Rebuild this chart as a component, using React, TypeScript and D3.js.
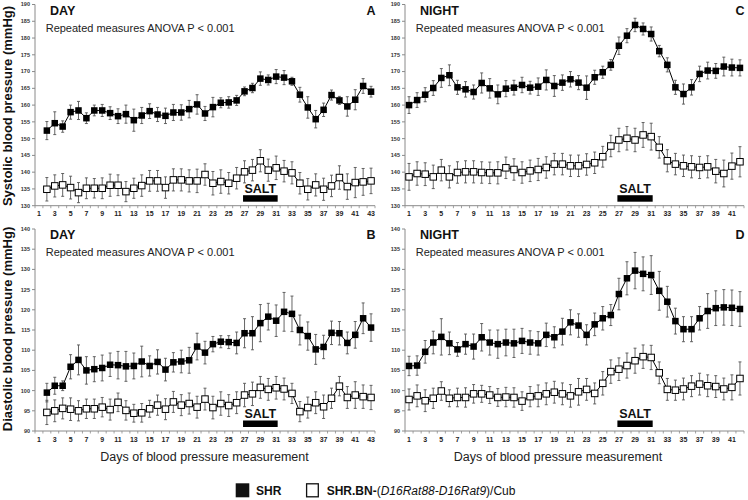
import React from 'react';
import * as d3 from 'd3';

// ---------- categories ----------
const dayCategories = [2,3,4,5,6,7,8,9,10,11,12,13,14,15,16,17,18,19,20,21,22,23,24,25,26,27,28,29,30,31,32,33,34,35,36,37,38,39,40,41,42,43];
const nightCategories = [1,2,3,4,5,6,7,8,9,10,11,12,13,14,15,16,17,18,19,20,21,22,23,24,25,26,27,28,29,30,31,32,33,34,35,36,37,38,39,40,41,42];
const dayTickLabels = [1,3,5,7,9,11,13,15,17,19,21,23,25,27,29,31,33,35,37,39,41,43];
const nightTickLabels = [1,3,5,7,9,11,13,15,17,19,21,23,25,27,29,31,33,35,37,39,41];
const sysTicks = [130,135,140,145,150,155,160,165,170,175,180,185,190];
const diaTicks = [90,95,100,105,110,115,120,125,130,135,140];
const saltDays = [27, 31];

// ---------- A: DAY systolic ----------
const daySysSHR = [152.4,154.6,153.6,157.9,158.4,156.1,158.4,158.4,157.6,156.7,157.3,155.5,156.9,158.2,157.2,156.8,157.8,157.8,158.8,160.2,157.5,159.4,160.7,160.8,161.4,164.1,165.1,167.9,167.5,168.5,168.2,167.1,163.1,159.3,155.8,158.6,163.0,161.4,159.6,161.6,165.7,164.0];
const daySysSHRErr = [2.7,3.4,1.7,2.1,2.7,1.6,1.6,1.8,1.9,2.2,2.7,3.3,2.4,2.2,2.1,2.3,2.4,2.3,2.6,2.9,2.1,2.9,1.5,1.7,1.5,1.3,1.4,2.0,1.5,2.1,2.1,1.2,2.2,3.2,2.6,2.0,1.5,1.2,2.9,3.0,2.2,1.6];
const daySysCong = [134.9,135.9,136.2,135.4,133.9,135.2,135.2,135.2,136.1,136.1,134.2,135.2,136.0,137.4,137.4,135.4,137.7,137.7,137.4,137.4,139.3,136.7,137.2,136.7,138.2,140.1,140.6,143.4,140.6,141.3,140.3,139.8,136.7,134.9,136.2,134.9,135.9,138.4,135.7,136.9,137.1,137.4];
const daySysCongErr = [3.5,3.3,3.4,3.4,3.0,3.1,2.9,3.1,3.3,3.1,3.0,3.0,3.2,3.1,3.1,3.2,3.3,3.3,3.3,3.5,3.2,3.5,3.5,3.2,3.2,3.3,3.2,3.3,3.3,3.5,3.2,3.3,3.2,3.2,3.3,3.3,3.2,3.5,3.8,4.5,4.0,3.8];

// ---------- C: NIGHT systolic ----------
const nightSysSHR = [160.0,161.5,163.1,165.1,168.1,168.9,165.3,164.7,163.9,166.6,165.0,163.2,164.9,165.2,166.0,165.2,165.5,167.5,165.7,166.7,167.7,166.7,165.2,168.3,169.8,172.0,177.7,180.7,183.9,182.7,181.2,176.1,172.0,165.3,163.3,165.3,169.3,170.3,170.2,171.5,171.2,171.1];
const nightSysSHRErr = [2.5,2.2,2.1,2.2,2.8,3.1,2.1,2.3,2.1,3.0,2.9,2.8,2.4,2.2,2.3,1.9,2.6,3.0,3.1,2.3,2.3,2.1,3.5,2.1,1.8,1.6,2.6,2.1,2.0,1.8,2.1,1.7,2.1,2.1,3.0,2.3,2.3,2.5,2.2,2.8,2.5,2.4];
const nightSysCong = [138.6,139.6,139.4,138.6,140.6,138.6,139.9,140.1,140.1,139.9,139.8,139.8,141.3,140.8,139.9,140.4,140.8,141.4,142.4,142.4,141.9,141.9,142.3,142.8,144.6,147.8,149.6,150.1,149.6,151.1,150.6,147.4,143.4,142.4,141.9,141.6,141.4,141.6,140.3,139.6,141.8,143.1];
const nightSysCongErr = [4.0,3.5,3.4,3.5,3.2,3.3,3.2,3.3,3.3,3.2,3.2,3.3,3.2,3.2,3.2,3.2,3.3,3.2,3.2,3.2,3.2,3.2,3.2,3.2,3.1,3.2,3.5,3.5,3.5,3.7,4.0,3.2,3.3,3.2,3.2,3.3,3.3,3.3,3.5,4.0,3.9,4.5];

// ---------- B: DAY diastolic ----------
const dayDiaSHR = [99.5,101.2,101.2,105.9,107.6,105.0,105.3,105.6,106.4,106.3,106.0,106.1,107.2,106.1,107.1,105.2,107.0,107.2,107.5,110.9,109.4,111.5,112.1,112.0,111.8,114.2,114.2,116.7,118.3,117.3,119.5,119.0,115.0,113.5,110.2,110.8,114.3,114.2,111.8,113.8,117.9,115.6];
const dayDiaSHRErr = [2.3,2.1,1.2,3.0,3.7,3.4,3.1,3.2,2.9,3.4,3.7,3.2,3.8,2.5,3.0,2.8,2.4,2.8,3.2,3.3,2.8,1.9,1.5,1.6,2.7,3.6,4.1,4.6,3.3,3.9,4.8,4.4,3.7,3.5,3.7,2.9,2.9,2.9,2.7,3.3,3.8,3.4];
const dayDiaCong = [94.6,95.0,95.6,95.4,95.0,95.5,95.5,95.9,95.3,97.1,95.1,94.4,94.5,95.5,96.4,95.4,97.2,96.4,96.8,95.9,97.9,95.8,96.8,96.3,97.0,98.9,99.2,100.8,100.3,100.7,100.4,99.3,94.8,95.8,97.0,96.0,98.1,101.1,98.3,98.9,98.5,98.3];
const dayDiaCongErr = [3.0,2.7,2.6,2.8,2.5,2.4,2.4,2.4,2.6,2.3,2.4,2.2,2.3,2.1,2.5,2.6,2.6,2.6,2.6,2.7,2.7,2.8,2.9,2.7,2.7,2.9,2.9,2.7,2.7,2.8,2.7,2.5,2.5,2.6,2.7,2.9,2.5,2.4,2.7,3.3,2.9,3.0];

// ---------- D: NIGHT diastolic ----------
const nightDiaSHR = [106.1,106.2,109.6,111.9,113.3,111.7,110.2,111.5,110.9,113.2,111.9,111.5,111.9,111.7,112.3,111.9,111.7,113.8,113.2,114.6,116.9,116.1,113.8,116.4,117.9,118.7,123.9,127.8,129.7,128.9,128.6,124.7,122.0,117.2,115.2,115.2,117.9,119.7,120.4,120.6,120.5,120.2];
const nightDiaSHRErr = [2.4,2.4,2.8,2.8,4.5,2.8,1.7,2.5,3.1,3.4,3.1,3.5,3.3,3.5,3.1,2.9,2.9,2.9,2.6,3.3,3.1,2.9,2.5,2.8,2.9,2.6,3.9,4.1,4.5,4.2,4.8,4.8,3.8,3.2,3.1,3.1,2.9,4.3,4.3,4.4,4.4,4.3];
const nightDiaCong = [97.8,98.7,97.5,98.1,99.9,98.1,98.3,98.3,99.2,99.2,98.9,98.3,98.4,98.3,97.4,98.5,98.7,99.2,99.6,99.2,98.7,99.7,100.3,99.3,101.8,104.7,105.3,106.2,107.4,108.4,108.2,104.4,100.3,100.1,100.4,101.1,101.6,101.2,101.0,100.4,100.8,103.0];
const nightDiaCongErr = [2.6,2.7,2.7,2.5,2.3,2.1,2.3,2.4,2.3,2.1,2.1,2.2,2.4,2.4,2.3,2.5,2.7,2.7,2.7,2.7,2.8,3.3,2.7,2.6,2.9,2.9,2.8,3.1,3.1,2.9,3.0,2.7,2.7,2.5,2.7,2.6,2.7,2.7,2.7,2.7,3.1,4.1];

const FONT = '"Liberation Sans", Arial, Helvetica, sans-serif';
const AXIS = '#8a8a8a';

type PanelProps = {
  x0: number; x1: number; yTop: number; yBot: number;
  ticks: number[]; nCat: number; tickLabels: number[];
  cats: number[]; shr: number[]; shrErr: number[]; cong: number[]; congErr: number[];
  title: string; letter: string;
};

function Panel(p: PanelProps) {
  const x = d3.scaleLinear().domain([0.5, p.nCat + 0.5]).range([p.x0, p.x1]);
  const y = d3.scaleLinear().domain([p.ticks[0], p.ticks[p.ticks.length - 1]]).range([p.yBot, p.yTop]);
  const line = d3.line<number>().x((_, i) => x(p.cats[i])).y((v) => y(v));
  const boundaries = d3.range(0.5, p.nCat + 1, 1);
  const series = [
    { vals: p.cong, err: p.congErr, filled: false },
    { vals: p.shr, err: p.shrErr, filled: true },
  ];
  const sx0 = x(saltDays[0]) - 1.5;
  const sx1 = x(saltDays[1]) + 1.5;
  return (
    <g>
      {/* axes */}
      <line x1={p.x0} x2={p.x0} y1={p.yTop} y2={p.yBot} stroke={AXIS} strokeWidth={1} />
      <line x1={p.x0} x2={p.x1} y1={p.yBot} y2={p.yBot} stroke={AXIS} strokeWidth={1} />
      {p.ticks.map((t) => (
        <g key={'yt' + t}>
          <line x1={p.x0 - 3} x2={p.x0} y1={y(t)} y2={y(t)} stroke={AXIS} strokeWidth={1} />
          <text x={p.x0 - 5} y={y(t)} dy="0.35em" textAnchor="end" fontSize={5.5} fontWeight="bold" fill="#333" fontFamily={FONT}>{t}</text>
        </g>
      ))}
      {boundaries.map((b) => (
        <line key={'xb' + b} x1={x(b)} x2={x(b)} y1={p.yBot} y2={p.yBot + 2.5} stroke={AXIS} strokeWidth={0.8} />
      ))}
      {p.tickLabels.map((t) => (
        <text key={'xt' + t} x={x(t)} y={p.yBot + 10.5} textAnchor="middle" fontSize={7} fontWeight="bold" fill="#222" fontFamily={FONT}>{t}</text>
      ))}
      {/* salt marker */}
      <text x={(sx0 + sx1) / 2} y={p.yBot - 12.8} textAnchor="middle" fontSize={12.5} fontWeight="bold" fill="#111" fontFamily={FONT}>SALT</text>
      <rect x={sx0} y={p.yBot - 10.5} width={sx1 - sx0} height={6.5} fill="#000" />
      {/* series */}
      {series.map((s, si) => (
        <g key={'s' + si}>
          {s.vals.map((v, i) => {
            const cx = x(p.cats[i]);
            return (
              <g key={'e' + i}>
                <line x1={cx} x2={cx} y1={y(v - s.err[i])} y2={y(v + s.err[i])} stroke="#555" strokeWidth={0.9} />
                <line x1={cx - 1.5} x2={cx + 1.5} y1={y(v + s.err[i])} y2={y(v + s.err[i])} stroke="#555" strokeWidth={0.9} />
                <line x1={cx - 1.5} x2={cx + 1.5} y1={y(v - s.err[i])} y2={y(v - s.err[i])} stroke="#555" strokeWidth={0.9} />
              </g>
            );
          })}
          <path d={line(s.vals) || ''} fill="none" stroke="#000" strokeWidth={1} />
          {s.vals.map((v, i) => {
            const cx = x(p.cats[i]);
            const sz = s.filled ? 6.5 : 6.5;
            return (
              <rect key={'m' + i} x={cx - sz / 2} y={y(v) - sz / 2} width={sz} height={sz}
                fill={s.filled ? '#000' : '#fff'} stroke="#000" strokeWidth={s.filled ? 0 : 1} />
            );
          })}
        </g>
      ))}
      {/* titles */}
      <text x={p.x0 + 15} y={p.yTop + 10} fontSize={12.5} fontWeight="bold" fill="#111" fontFamily={FONT}>{p.title}</text>
      <text x={p.x0 + 10.7} y={p.yTop + 27} fontSize={11} fill="#222" fontFamily={FONT}>Repeated measures ANOVA P &lt; 0.001</text>
      <text x={p.x1 + 0.5} y={p.yTop + 10} textAnchor="end" fontSize={12.5} fontWeight="bold" fill="#111" fontFamily={FONT}>{p.letter}</text>
    </g>
  );
}

export default function App() {
  const top = { yTop: 4.5, yBot: 205.7, ticks: sysTicks };
  const bot = { yTop: 229, yBot: 431, ticks: diaTicks };
  const left = { x0: 35, x1: 375, nCat: 43, tickLabels: dayTickLabels, cats: dayCategories, title: 'DAY' };
  const right = { x0: 405, x1: 744, nCat: 42, tickLabels: nightTickLabels, cats: nightCategories, title: 'NIGHT' };
  return (
    <svg width={748} height={500} style={{ position: 'absolute', left: 0, top: 0, background: '#fff' }} fontFamily={FONT}>
      <rect x={0} y={0} width={748} height={500} fill="#fff" />
      <Panel {...top} {...left} shr={daySysSHR} shrErr={daySysSHRErr} cong={daySysCong} congErr={daySysCongErr} letter="A" />
      <Panel {...top} {...right} shr={nightSysSHR} shrErr={nightSysSHRErr} cong={nightSysCong} congErr={nightSysCongErr} letter="C" />
      <Panel {...bot} {...left} shr={dayDiaSHR} shrErr={dayDiaSHRErr} cong={dayDiaCong} congErr={dayDiaCongErr} letter="B" />
      <Panel {...bot} {...right} shr={nightDiaSHR} shrErr={nightDiaSHRErr} cong={nightDiaCong} congErr={nightDiaCongErr} letter="D" />

      <text transform="translate(12,106) rotate(-90)" textAnchor="middle" fontSize={13} fontWeight="bold" fill="#111">Systolic blood pressure (mmHg)</text>
      <text transform="translate(12,329) rotate(-90)" textAnchor="middle" fontSize={13} fontWeight="bold" fill="#111">Diastolic blood pressure (mmHg)</text>

      <text x={204.5} y={461} textAnchor="middle" fontSize={12.5} fill="#222">Days of blood pressure measurement</text>
      <text x={558} y={461} textAnchor="middle" fontSize={12.5} fill="#222">Days of blood pressure measurement</text>

      <rect x={235.7} y={483.3} width={13.6} height={14} fill="#111" />
      <text x={256} y={494.5} fontSize={12} fontWeight="bold" fill="#111">SHR</text>
      <rect x={306.6} y={483.8} width={11.7} height={13} fill="#fff" stroke="#111" strokeWidth={1.3} />
      <text x={326.7} y={494.5} fontSize={12} fill="#111">
        <tspan fontWeight="bold">SHR.BN-</tspan>
        <tspan>(</tspan>
        <tspan fontStyle="italic">D16Rat88-D16Rat9</tspan>
        <tspan>)/Cub</tspan>
      </text>
    </svg>
  );
}
